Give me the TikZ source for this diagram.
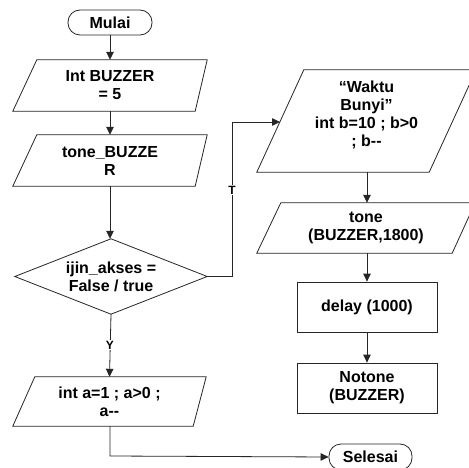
\documentclass[tikz,border=0pt]{standalone}
\usepackage{fontspec}
\setmainfont{Liberation Sans}
\usetikzlibrary{arrows.meta,calc}
\tikzset{
  box/.style={draw=none, inner sep=0pt, align=center, font=\fontsize{16}{18}\selectfont\bfseries},
  outline/.style={draw=black!85, line width=0.8pt},
  term/.style={box, draw=black!85, line width=0.8pt, rounded corners=12pt},
  conn/.style={draw=black!85, line width=0.8pt, -{Triangle[length=8pt,width=7.5pt]}},
  lbl/.style={fill=white, inner sep=1pt, font=\fontsize{12}{13}\selectfont\bfseries}
}
\begin{document}
\begin{tikzpicture}[x=1pt,y=-1pt]
\useasboundingbox (0,0) rectangle (469,468);
\clip (0,0) rectangle (469,468);
\fill[white] (0,0) rectangle (469,468);
% nodes
\node[term, minimum width=84pt, minimum height=25pt] (mulai) at (110,22.5) {Mulai};
\node[box, minimum width=194pt, minimum height=51pt] (buzz) at (110,85.5) {Int BUZZER\\= 5};
\node[box, minimum width=194pt, minimum height=51pt] (tone1) at (110,160.5) {tone\_BUZZE\\R};
\node[box, minimum width=192pt, minimum height=75pt] (dia) at (111,276.5) {ijin\_akses =\\False / true};
\node[box, minimum width=193pt, minimum height=49pt] (inta) at (109.5,401.5) {int a=1 ; a>0 ;\\a-{}-};
\node[box, minimum width=219pt, minimum height=102pt] (waktu) at (366.5,115) {“Waktu\\Bunyi”\\int b=10 ; b>0\\; b-{}-};
\node[box, minimum width=218pt, minimum height=50pt] (tone2) at (366,228) {tone\\(BUZZER,1800)};
\node[box, draw=black!85, line width=0.8pt, minimum width=140pt, minimum height=50pt] (delay) at (367,307) {delay (1000)};
\node[box, draw=black!85, line width=0.8pt, minimum width=140pt, minimum height=50pt] (notone) at (367,388) {Notone\\(BUZZER)};
\node[term, minimum width=83pt, minimum height=26pt] (selesai) at (370.5,457) {Selesai};
% outlines
\draw[outline] ($(buzz.north west)+(24,0)$) -- (buzz.north east) -- ($(buzz.south east)+(-12,0)$) -- (buzz.south west) -- cycle;
\draw[outline] ($(tone1.north west)+(24,0)$) -- (tone1.north east) -- ($(tone1.south east)+(-12,0)$) -- (tone1.south west) -- cycle;
\draw[outline] (dia.north) -- (dia.east) -- (dia.south) -- (dia.west) -- cycle;
\draw[outline] ($(inta.north west)+(22,0)$) -- (inta.north east) -- ($(inta.south east)+(-13,0)$) -- (inta.south west) -- cycle;
\draw[outline] ($(waktu.north west)+(47,6)$) -- ($(waktu.north east)+(0,6)$) -- ($(waktu.south east)+(-47,6)$) -- ($(waktu.south west)+(0,6)$) -- cycle;
\draw[outline] ($(tone2.north west)+(24,0)$) -- (tone2.north east) -- ($(tone2.south east)+(-23,0)$) -- (tone2.south west) -- cycle;
% connectors
\coordinate (wl) at (280,122);
\coordinate (wb) at (367,172);
\coordinate (yend) at (110,456);
\draw[conn] (mulai.south) -- (buzz.north);
\draw[conn] (buzz.south) -- (tone1.north);
\draw[conn] (tone1.south) -- (tone1.south |- dia.north);
\draw[conn] (dia.east) -- (232,276.5) -- (232,122) -- (wl);
\node[lbl] (tlab) at (232,190) {T};
\draw[conn] (dia.south) -- (inta.north);
\node[lbl] (ylab) at (110,345) {Y};
\draw[conn] (inta.south -| yend) -- (yend) -- (selesai.west);
\draw[conn] (wb) -- (wb |- tone2.north);
\draw[conn] (tone2.south -| delay.north) -- (delay.north);
\draw[conn] (delay.south) -- (notone.north);
\end{tikzpicture}
\end{document}
